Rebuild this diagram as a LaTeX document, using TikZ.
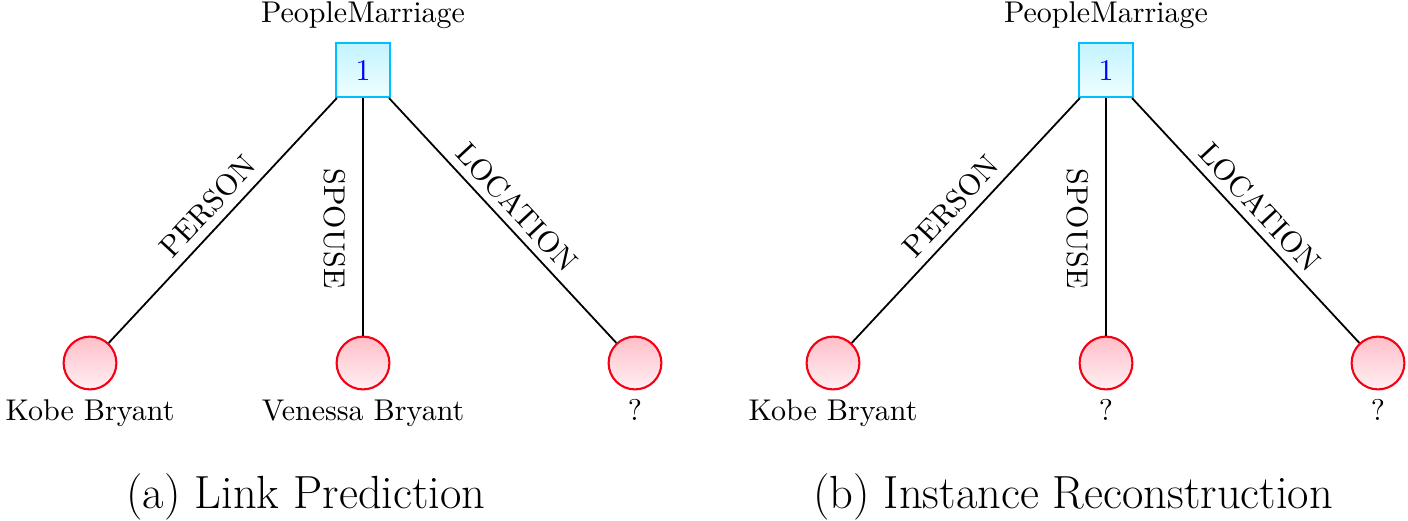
\documentclass[tikz,border=0pt]{standalone}
\usetikzlibrary{positioning}

\definecolor{boxline}{RGB}{0,190,255}
\definecolor{boxtop}{RGB}{195,243,255}
\definecolor{boxbot}{RGB}{240,255,255}
\definecolor{entline}{RGB}{245,0,20}
\definecolor{enttop}{RGB}{255,190,200}
\definecolor{entbot}{RGB}{255,240,243}

\begin{document}
\begin{tikzpicture}[x=0.3333pt, y=-0.3333pt,
  fact/.style = {draw=boxline, line width=0.7pt, top color=boxtop, bottom color=boxbot, minimum size=18pt, inner sep=0pt, text=blue},
  ent/.style = {draw=entline, line width=0.7pt, circle, top color=enttop, bottom color=entbot, minimum size=17.6pt, inner sep=0pt},
  ename/.style = {text height=1.6ex, text depth=0.45ex, inner sep=2pt},
  role/.style = {sloped, inner sep=2pt},
  rel/.style = {line width=0.6pt},
  subcap/.style = {font=\fontsize{15.5}{18}\selectfont, anchor=base}]
\useasboundingbox (0,0) rectangle (1408,520);

% (a) link prediction
\node[fact] (a0) at (363,70) {1};
\node (at) [above=1pt of a0] {PeopleMarriage};
\node[ent] (a1) at (90,363) {};
\node[ent] (a2) at (363,363) {};
\node[ent] (a3) at (635,363) {};
\node[ename] (a1n) [below=1pt of a1] {Kobe Bryant};
\node[ename] (a2n) [below=1pt of a2] {Venessa Bryant};
\node[ename] (a3n) [below=1pt of a3] {?};

\draw[rel] (a0) -- node[role, above=1pt] {PERSON} (a1);
\draw[rel] (a0) -- node[role, below=3.5pt, pos=0.55] {SPOUSE} (a2);
\draw[rel] (a0) -- node[role, above=0.5pt] {LOCATION} (a3);

\node[subcap] (acap) at (306,508) {(a) Link Prediction};

% (b) instance reconstruction
\node[fact] (b0) at (1106,70) {1};
\node (bt) [above=1pt of b0] {PeopleMarriage};
\node[ent] (b1) at (833,363) {};
\node[ent] (b2) at (1106,363) {};
\node[ent] (b3) at (1378,363) {};
\node[ename] (b1n) [below=1pt of b1] {Kobe Bryant};
\node[ename] (b2n) [below=1pt of b2] {?};
\node[ename] (b3n) [below=1pt of b3] {?};

\draw[rel] (b0) -- node[role, above=1pt] {PERSON} (b1);
\draw[rel] (b0) -- node[role, below=3.5pt, pos=0.55] {SPOUSE} (b2);
\draw[rel] (b0) -- node[role, above=0.5pt] {LOCATION} (b3);

\node[subcap] (bcap) at (1073,508) {(b) Instance Reconstruction};
\end{tikzpicture}
\end{document}
